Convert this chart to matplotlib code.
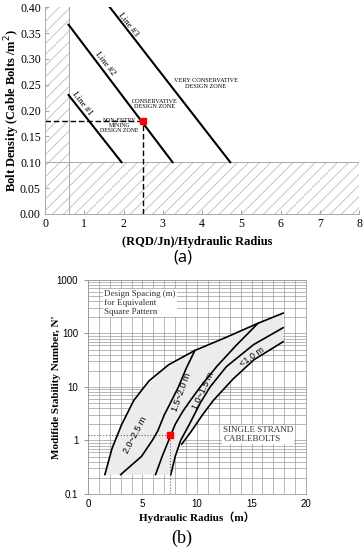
import matplotlib
matplotlib.use("Agg")
import matplotlib.pyplot as plt
import numpy as np

# ---- panel (a) data ----
line1_x = [0.6, 1.95]
line1_y = [0.23, 0.10]
line2_x = [0.6, 3.25]
line2_y = [0.366, 0.10]
line3_x = [1.65, 4.72]
line3_y = [0.40, 0.10]
point_a = (2.5, 0.18)
limit_x = 0.6
limit_y = 0.10

# ---- panel (b) data ----
curve_a_x = [1.55, 2.2, 2.5, 3.1, 4.2, 5.6, 7.4, 9.8, 12.7, 15.6, 17.9]
curve_a_n = [0.23, 0.7, 1.0, 2.0, 5.6, 13, 26, 48, 85, 155, 240]
curve_b_x = [3.0, 4.9, 5.9, 6.4, 7.0, 7.6, 8.3, 9.0, 9.8]
curve_b_n = [0.23, 0.5, 1.0, 1.5, 3.0, 5.2, 10, 22, 48]
curve_c_x = [6.2, 6.8, 7.4, 8.0, 8.7, 9.4, 10.3, 11.8, 13.6, 15.6]
curve_c_n = [0.23, 0.5, 1.0, 2.0, 3.5, 5.6, 10, 24, 60, 155]
curve_d_x = [7.6, 8.0, 8.5, 9.3, 10.3, 11.2, 12.7, 15.2, 17.9]
curve_d_n = [0.23, 0.5, 1.0, 2.0, 5.0, 10, 24, 62, 128]
curve_e_x = [8.6, 9.5, 10.5, 11.5, 13.3, 15.2, 17.9]
curve_e_n = [0.85, 1.5, 3.0, 5.6, 14, 32, 70]
point_b = (7.5, 1.24)

serif = "Liberation Serif"
grey = "#a8a8a8"
plt.rcParams["hatch.linewidth"] = 0.6

fig = plt.figure(figsize=(3.63, 5.5), dpi=100)

# ================= (a) =================
ax = fig.add_axes([0.124, 0.611, 0.865, 0.376])
ax.set_xlim(0, 8)
ax.set_ylim(0, 0.40)
ax.fill_between([0, limit_x], 0, 0.40, facecolor="none", edgecolor="#bdbdbd",
                hatch="///", linewidth=0)
ax.fill_between([limit_x, 8], 0, limit_y, facecolor="none", edgecolor="#bdbdbd",
                hatch="///", linewidth=0)
ax.axvline(limit_x, color=grey, lw=0.7)
ax.axhline(limit_y, color=grey, lw=0.7)

for xs, ys in [(line1_x, line1_y), (line2_x, line2_y), (line3_x, line3_y)]:
    ax.plot(xs, ys, color="black", lw=1.5)

ax.plot([0, point_a[0]], [point_a[1], point_a[1]], color="black", lw=1.0, ls=(0, (4, 2)))
ax.plot([point_a[0], point_a[0]], [0, point_a[1]], color="black", lw=1.0, ls=(0, (4, 2)))
ax.plot(*point_a, marker="s", color="red", ms=5, zorder=5)

ax.text(0.94, 0.214, "Line #1", rotation=-52, fontsize=6.5, family=serif, ha="center", va="center")
ax.text(1.53, 0.29, "Line #2", rotation=-52, fontsize=6.5, family=serif, ha="center", va="center")
ax.text(2.11, 0.367, "Line #3", rotation=-52, fontsize=6.5, family=serif, ha="center", va="center")
ax.text(4.1, 0.252, "VERY CONSERVATIVE\nDESIGN ZONE", fontsize=4.5, family=serif,
        ha="center", va="center", linespacing=1.1)
ax.text(2.8, 0.213, "CONSERVATIVE\nDESIGN ZONE", fontsize=4.5, family=serif,
        ha="center", va="center", linespacing=1.1)
ax.text(1.9, 0.171, "NON-ENTRY\nMINING\nDESIGN ZONE", fontsize=4.2, family=serif,
        ha="center", va="center", linespacing=1.0)

ax.set_xticks(range(0, 9))
ax.set_yticks(np.arange(0, 0.41, 0.05))
ax.set_yticklabels(["%.2f" % v for v in np.arange(0, 0.41, 0.05)])
ax.tick_params(direction="in", length=3, color=grey, labelsize=8.5, pad=3)
for lab in ax.get_xticklabels() + ax.get_yticklabels():
    lab.set_family(serif)
for s in ["top", "right"]:
    ax.spines[s].set_visible(False)
for s in ["left", "bottom"]:
    ax.spines[s].set_color(grey)
    ax.spines[s].set_linewidth(0.7)

fig.text(0.033, 0.80, "Bolt Density (Cable Bolts /m$^2$)", rotation=90, ha="center",
         va="center", fontsize=9, fontweight="bold", family=serif)
fig.text(0.543, 0.56, "(RQD/Jn)/Hydraulic Radius", ha="center", va="center",
         fontsize=9, fontweight="bold", family=serif)
fig.text(0.505, 0.532, "(a)", ha="center", va="center", fontsize=12, family="Open Sans")

# ================= (b) =================
bx = fig.add_axes([0.2424, 0.102, 0.6006, 0.389])
bx.set_xlim(0, 20)
bx.set_yscale("log")
bx.set_ylim(0.1, 1000)
bx.set_xticks(range(0, 21, 5))
bx.set_xticks(range(0, 21), minor=True)
bx.grid(True, which="both", color="#9a9a9a", lw=0.5)
bx.set_axisbelow(True)

# shaded design band
poly_x = curve_a_x + curve_e_x[::-1] + curve_d_x[:3][::-1]
poly_n = curve_a_n + curve_e_n[::-1] + curve_d_n[:3][::-1]
bx.fill(poly_x, poly_n, color="#ececec", zorder=1.5, lw=0)

for xs, ns in [(curve_a_x, curve_a_n), (curve_b_x, curve_b_n), (curve_c_x, curve_c_n),
               (curve_d_x, curve_d_n), (curve_e_x, curve_e_n)]:
    bx.plot(xs, ns, color="black", lw=1.2, zorder=3)

bx.plot([0, point_b[0]], [point_b[1], point_b[1]], color="#666666", lw=0.8, ls=":", zorder=3)
bx.plot([point_b[0], point_b[0]], [0.1, point_b[1]], color="#666666", lw=0.8, ls=":", zorder=3)
bx.plot(*point_b, marker="s", color="red", ms=5, zorder=5)

sans = "Liberation Sans"
bx.text(4.3, 1.25, "2.0~2.5 m", rotation=62, fontsize=6.5, family=sans, ha="center", va="center", zorder=4)
bx.text(8.6, 8.0, "1.5~2.0 m", rotation=70, fontsize=6.5, family=sans, ha="center", va="center", zorder=4)
bx.text(10.6, 8.6, "1.0~1.5 m", rotation=65, fontsize=6.5, family=sans, ha="center", va="center", zorder=4)
bx.text(15.0, 36, "<1.0 m", rotation=35, fontsize=6.5, family=sans, ha="center", va="center", zorder=4)
bx.text(1.5, 650, "Design Spacing (m)\nfor Equivalent\nSquare Pattern", fontsize=6.5,
        family=serif, ha="left", va="top", color="#333333", linespacing=1.15,
        bbox=dict(facecolor="white", edgecolor="none", pad=1), zorder=4)
bx.text(12.4, 1.3, "SINGLE STRAND\nCABLEBOLTS", fontsize=6.5, family=serif, ha="left",
        va="center", color="#333333", linespacing=1.2,
        bbox=dict(facecolor="white", edgecolor="none", pad=0.5), zorder=4)

bx.set_yticks([0.1, 1, 10, 100, 1000])
bx.set_yticklabels(["0.1", "1", "10", "100", "1000"])
bx.tick_params(which="both", length=0, labelsize=7, pad=4)
bx.tick_params(axis="y", which="major", length=3, color="#9a9a9a")
for lab in bx.get_xticklabels() + bx.get_yticklabels():
    lab.set_family(sans)
for s in bx.spines.values():
    s.set_color("#9a9a9a")
    s.set_linewidth(0.6)

fig.text(0.155, 0.296, "Modifide Stability Number, N'", rotation=90, ha="center",
         va="center", fontsize=8, fontweight="bold", family=serif)
fig.text(0.543, 0.06, "Hydraulic Radius（m）", ha="center", va="center", fontsize=8,
         fontweight="bold", family=[serif, "Noto Sans CJK SC"])
fig.text(0.5, 0.022, "(b)", ha="center", va="center", fontsize=13, family=serif)

fig.savefig("out.png", dpi=100)
